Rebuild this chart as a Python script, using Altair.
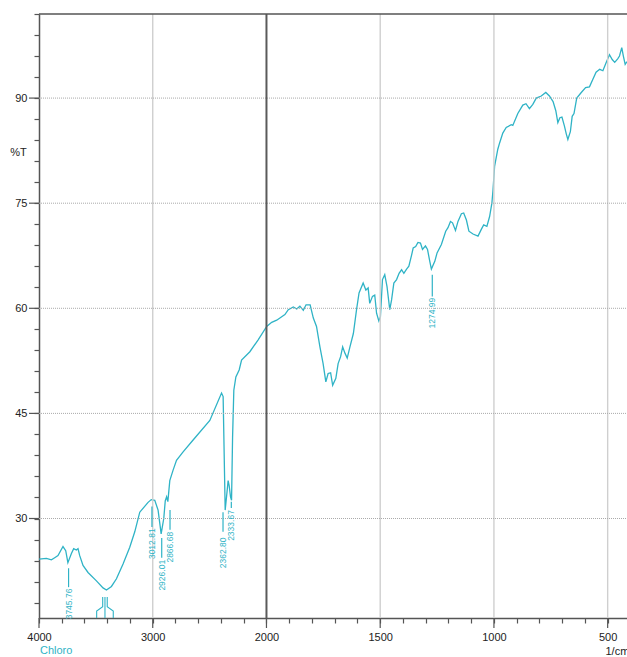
import altair as alt
import pandas as pd

# ---- spectrum (wavenumber in 1/cm, transmittance in %T) ----
wavenumber = [
    4000, 3935, 3891, 3862, 3833, 3789, 3765, 3746, 3715, 3695,
    3671, 3657, 3642, 3613, 3569, 3495, 3437, 3407, 3363, 3319,
    3261, 3202, 3158, 3114, 3041, 3013, 2982, 2953, 2926, 2903,
    2890, 2878, 2867, 2850, 2821, 2791, 2733, 2645, 2498, 2395,
    2381, 2363, 2351, 2337, 2328, 2316, 2307, 2298, 2287, 2269,
    2240, 2219, 2146, 2073, 1999, 1977, 1955, 1933, 1919, 1904,
    1882, 1867, 1853, 1838, 1826, 1808, 1794, 1780, 1765, 1751,
    1739, 1729, 1718, 1709, 1695, 1685, 1674, 1665, 1655, 1645,
    1633, 1618, 1604, 1593, 1575, 1563, 1553, 1546, 1534, 1524,
    1516, 1506, 1499, 1490, 1480, 1470, 1458, 1450, 1440, 1428,
    1417, 1406, 1396, 1384, 1374, 1362, 1355, 1344, 1334, 1323,
    1314, 1301, 1292, 1282, 1275, 1260, 1250, 1231, 1212, 1202,
    1191, 1182, 1169, 1158, 1143, 1133, 1121, 1110, 1092, 1070,
    1055, 1045, 1031, 1019, 1009, 1004, 997, 983, 975, 961,
    946, 924, 917, 895, 873, 859, 844, 829, 814, 792,
    772, 756, 740, 728, 719, 710, 701, 690, 682, 675,
    664, 656, 648, 636, 616, 597, 580, 565, 551, 535,
    521, 506, 492, 480, 469, 456, 448, 438, 431, 423,
    415,
]
transmittance = [
    24.2, 24.3, 24.1, 24.4, 24.7, 26.0, 25.4, 23.7, 25.0, 25.7,
    25.5, 25.7, 24.7, 23.3, 22.3, 21.1, 20.1, 19.8, 20.3, 21.4,
    23.5, 25.9, 28.1, 30.9, 32.3, 32.7, 32.6, 31.2, 27.8, 30.0,
    32.5, 33.1, 32.4, 35.4, 36.9, 38.3, 39.5, 41.2, 44.0, 47.9,
    47.4, 31.2, 33.1, 35.4, 34.7, 33.1, 32.6, 41.6, 48.3, 50.2,
    51.2, 52.6, 53.8, 55.5, 57.4, 58.0, 58.3, 58.8, 59.1, 59.8,
    60.2, 59.9, 60.3, 59.7, 60.5, 60.5, 58.6, 57.4, 54.5, 52.1,
    49.5, 50.7, 50.8, 49.0, 50.0, 52.1, 53.1, 54.5, 53.6, 52.9,
    54.5, 56.4, 59.8, 62.2, 63.6, 62.6, 62.9, 60.7, 61.7, 61.9,
    59.3, 58.2, 58.8, 64.1, 64.8, 63.1, 59.8, 61.2, 63.6, 64.1,
    65.0, 65.5, 65.0, 65.6, 66.0, 67.6, 68.6, 68.8, 69.4, 69.3,
    68.4, 68.9, 68.4, 66.7, 65.6, 66.7, 67.9, 69.1, 71.0, 71.5,
    72.4, 72.2, 71.1, 72.4, 73.5, 73.6, 72.6, 71.0, 70.6, 70.3,
    71.3, 71.9, 71.7, 73.1, 75.0, 76.9, 80.3, 82.7, 83.6, 85.0,
    85.8, 86.2, 86.1, 87.8, 89.0, 89.2, 88.5, 89.1, 90.0, 90.3,
    90.8, 90.3, 89.5, 88.2, 86.5, 87.2, 87.3, 86.0, 84.9, 84.1,
    85.2, 87.4, 87.8, 90.0, 90.8, 91.5, 91.6, 92.7, 93.7, 94.1,
    93.9, 95.1, 96.2, 95.5, 95.1, 95.6, 96.0, 97.2, 96.0, 94.8,
    95.2,
]

# ---- peak annotations ----
peak_text = ["3745.76", "3012.81", "2926.01", "2866.68", "2362.80", "2333.67", "1274.99"]
peak_at_wn = [3740, 3007, 2921, 2848, 2382, 2309, 1271]
peak_line_top = [22.9, 31.7, 27.2, 31.2, 30.9, 32.4, 64.8]
peak_line_bottom = [20.2, 28.8, 24.4, 28.4, 28.1, 31.5, 61.7]
peak_text_mid = [17.8, 26.4, 21.9, 25.9, 25.1, 29.0, 59.3]

# leader lines of crowded labels near 3400 1/cm (their text falls below the axis)
leader_id = [0, 0, 0, 0, 1, 1, 2, 2, 2, 2]
leader_step = [0, 1, 2, 3, 0, 1, 0, 1, 2, 3]
leader_wn = [3440, 3440, 3493, 3493, 3420, 3420, 3400, 3400, 3347, 3347]
leader_t = [18.8, 17.4, 16.8, 15.8, 18.8, 15.8, 18.8, 17.4, 16.8, 15.8]

# ---- axes ----
x_major_wn = [4000, 3000, 2000, 1500, 1000, 500]
x_minor_wn = [3800, 3600, 3400, 3200, 2800, 2600, 2400, 2200,
              1900, 1800, 1700, 1600, 1400, 1300, 1200, 1100,
              900, 800, 700, 600]
x_grid_wn = [3000, 1500, 1000, 500]
x_break_wn = [2000]
y_major = [30, 45, 60, 75, 90]
y_minor = [18, 21, 24, 27, 33, 36, 39, 42, 48, 51, 54, 57, 63, 66, 69,
           72, 78, 81, 84, 87, 93, 96, 99, 102]
sample_name = ["Chloro"]
x_title = "1/cm"
y_title = "%T"


def to_pos(wn):
    # scale expands x2 below 2000 1/cm, as on the instrument printout
    return (4000 - wn) / 2 if wn >= 2000 else 3000 - wn


W, H = 588, 604
TEAL = "#2fb3c6"
FONT = "Liberation Sans"

xscale = alt.Scale(domain=[0, 2585], nice=False, zero=False)
yscale = alt.Scale(domain=[15.8, 102], nice=False, zero=False)

spec = pd.DataFrame({"wn": wavenumber, "T": transmittance})
spec["pos"] = [to_pos(w) for w in spec["wn"]]

x_tick_pos = sorted(to_pos(w) for w in x_major_wn + x_minor_wn)
y_tick_vals = sorted(y_major + y_minor)

x_axis = alt.Axis(
    values=x_tick_pos,
    labelExpr="datum.value % 500 === 0 ? (datum.value <= 1000 ? 4000 - 2*datum.value : 3000 - datum.value) : ''",
    tickSize=5, labelPadding=8, labelFlush=False, labelOverlap=False,
    grid=False, title=x_title, titleX=566, titleY=33, titleAlign="left",
    titleBaseline="middle", titleFontWeight="normal", titleFontSize=11,
    titleFont=FONT, titleColor="#222",
)
y_axis = alt.Axis(
    values=y_tick_vals,
    labelExpr="datum.value % 15 === 0 ? datum.value : ''",
    tickSize=5, labelPadding=7, labelFlush=False, labelOverlap=False,
    grid=False, title=y_title, titleAngle=0, titleX=-21, titleY=138,
    titleAlign="center", titleBaseline="middle", titleFontWeight="normal",
    titleFontSize=11, titleFont=FONT, titleColor="#222",
)


def X(field):
    return alt.X(field, scale=xscale, axis=x_axis)


def Y(field):
    return alt.Y(field, scale=yscale, axis=y_axis)


grid_df = pd.DataFrame({"pos": [to_pos(w) for w in x_grid_wn]})
break_df = pd.DataFrame({"pos": [to_pos(w) for w in x_break_wn]})
hgrid_df = pd.DataFrame({"T": y_major})
xmaj_df = pd.DataFrame({"pos": [to_pos(w) for w in x_major_wn]})

curve = alt.Chart(spec).mark_line(color=TEAL, strokeWidth=1.3).encode(
    x=X("pos:Q"), y=Y("T:Q"))

vgrid = alt.Chart(grid_df).mark_rule(color="#cfcfcf", strokeWidth=1.4).encode(
    x=X("pos:Q"), y=alt.value(0), y2=alt.value(H))
hgrid = alt.Chart(hgrid_df).mark_rule(color="#aaaaaa", strokeWidth=1, strokeDash=[1, 1]).encode(
    y=Y("T:Q"), x=alt.value(0), x2=alt.value(W))
brk = alt.Chart(break_df).mark_rule(color="#5a5a5a", strokeWidth=2).encode(
    x=X("pos:Q"), y=alt.value(0), y2=alt.value(H))

peaks = pd.DataFrame({
    "text": peak_text,
    "pos": [to_pos(w) for w in peak_at_wn],
    "t1": peak_line_top, "t2": peak_line_bottom, "tm": peak_text_mid,
})
peak_lines = alt.Chart(peaks).mark_rule(color=TEAL, strokeWidth=1.2).encode(
    x=X("pos:Q"), y=Y("t1:Q"), y2="t2:Q")
peak_labels = alt.Chart(peaks).mark_text(
    angle=270, align="center", baseline="middle", fontSize=8.5, font=FONT, color=TEAL
).encode(x=X("pos:Q"), y=Y("tm:Q"), text="text:N")

leaders = pd.DataFrame({"id": leader_id, "step": leader_step,
                        "pos": [to_pos(w) for w in leader_wn], "T": leader_t})
leader_lines = alt.Chart(leaders).mark_line(color=TEAL, strokeWidth=1.1).encode(
    x=X("pos:Q"), y=Y("T:Q"), detail="id:N", order="step:Q")

xmaj = alt.Chart(xmaj_df).mark_rule(color="#555555", strokeWidth=1.2).encode(
    x=X("pos:Q"), y=alt.value(H), y2=alt.value(H + 10))
ymaj = alt.Chart(hgrid_df).mark_rule(color="#555555", strokeWidth=1.2).encode(
    y=Y("T:Q"), x=alt.value(0), x2=alt.value(-10))

top_df = pd.DataFrame({"k": [0]})
top_border = alt.Chart(top_df).mark_rule(color="#555555", strokeWidth=1.5).encode(
    y=alt.value(0), x=alt.value(0), x2=alt.value(W))

name_df = pd.DataFrame({"name": sample_name})
name_text = alt.Chart(name_df).mark_text(
    align="left", baseline="middle", fontSize=11, font=FONT, color=TEAL
).encode(x=alt.value(1), y=alt.value(H + 33), text="name:N")

chart = alt.layer(
    curve, vgrid, hgrid, brk, peak_lines, peak_labels, leader_lines,
    xmaj, ymaj, top_border, name_text,
).properties(
    width=W, height=H,
    padding={"left": 39, "top": 14, "right": 0, "bottom": 39},
    autosize=alt.AutoSizeParams(type="none"),
).configure_view(stroke=None).configure_axis(
    labelFont=FONT, labelFontSize=11, labelColor="#222",
    domainColor="#555555", domainWidth=1.5,
    tickColor="#555555", tickWidth=1.2,
)

chart.save("out.html", embed_options={"renderer": "svg", "actions": False})
